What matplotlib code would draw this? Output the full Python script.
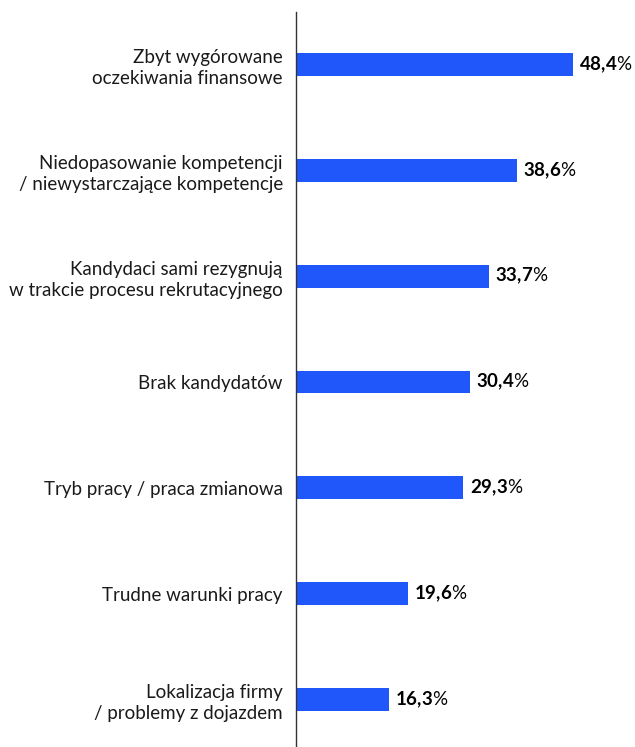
import matplotlib
matplotlib.use("Agg")
import matplotlib.pyplot as plt
import numpy as np

plt.rcParams["font.family"] = ["Lato", "DejaVu Sans"]
plt.rcParams["mathtext.fontset"] = "custom"
plt.rcParams["mathtext.rm"] = "Lato"
plt.rcParams["mathtext.bf"] = "Lato:bold"

categories = [
    "Zbyt wygórowane\noczekiwania finansowe",
    "Niedopasowanie kompetencji\n/ niewystarczające kompetencje",
    "Kandydaci sami rezygnują\nw trakcie procesu rekrutacyjnego",
    "Brak kandydatów",
    "Tryb pracy / praca zmianowa",
    "Trudne warunki pracy",
    "Lokalizacja firmy\n/ problemy z dojazdem",
]
values = [48.4, 38.6, 33.7, 30.4, 29.3, 19.6, 16.3]

BAR_COLOR = "#1f57fa"
TEXT_COLOR = "#1a1a1a"

fig = plt.figure(figsize=(6.35, 7.47), dpi=100)
ax = fig.add_axes([296 / 635, 0, 1 - 296 / 635, 1 - 12 / 747])

y = np.arange(len(categories))
ax.barh(y, values, height=0.217, color=BAR_COLOR, zorder=2)

ax.set_ylim(6.449, -0.496)
ax.set_xlim(0, 59.3)
ax.set_yticks(y)
ax.set_yticklabels(categories, fontsize=13.5, color=TEXT_COLOR, linespacing=1.3)
ax.tick_params(axis="y", length=0, pad=9.5)
ax.set_xticks([])

for side in ["top", "right", "bottom"]:
    ax.spines[side].set_visible(False)
ax.spines["left"].set_color("#333333")
ax.spines["left"].set_linewidth(1.0)

# value labels: bold number followed by a regular percent sign
for yi, v in zip(y, values):
    num = f"{v:.1f}".replace(".", "{,}")
    ax.annotate(r"$\mathbf{" + num + r"}$%", xy=(v, yi),
                xytext=(4.5, 0), textcoords="offset points",
                ha="left", va="center", fontsize=13.5, color="black")

fig.savefig("out.png", dpi=100)
